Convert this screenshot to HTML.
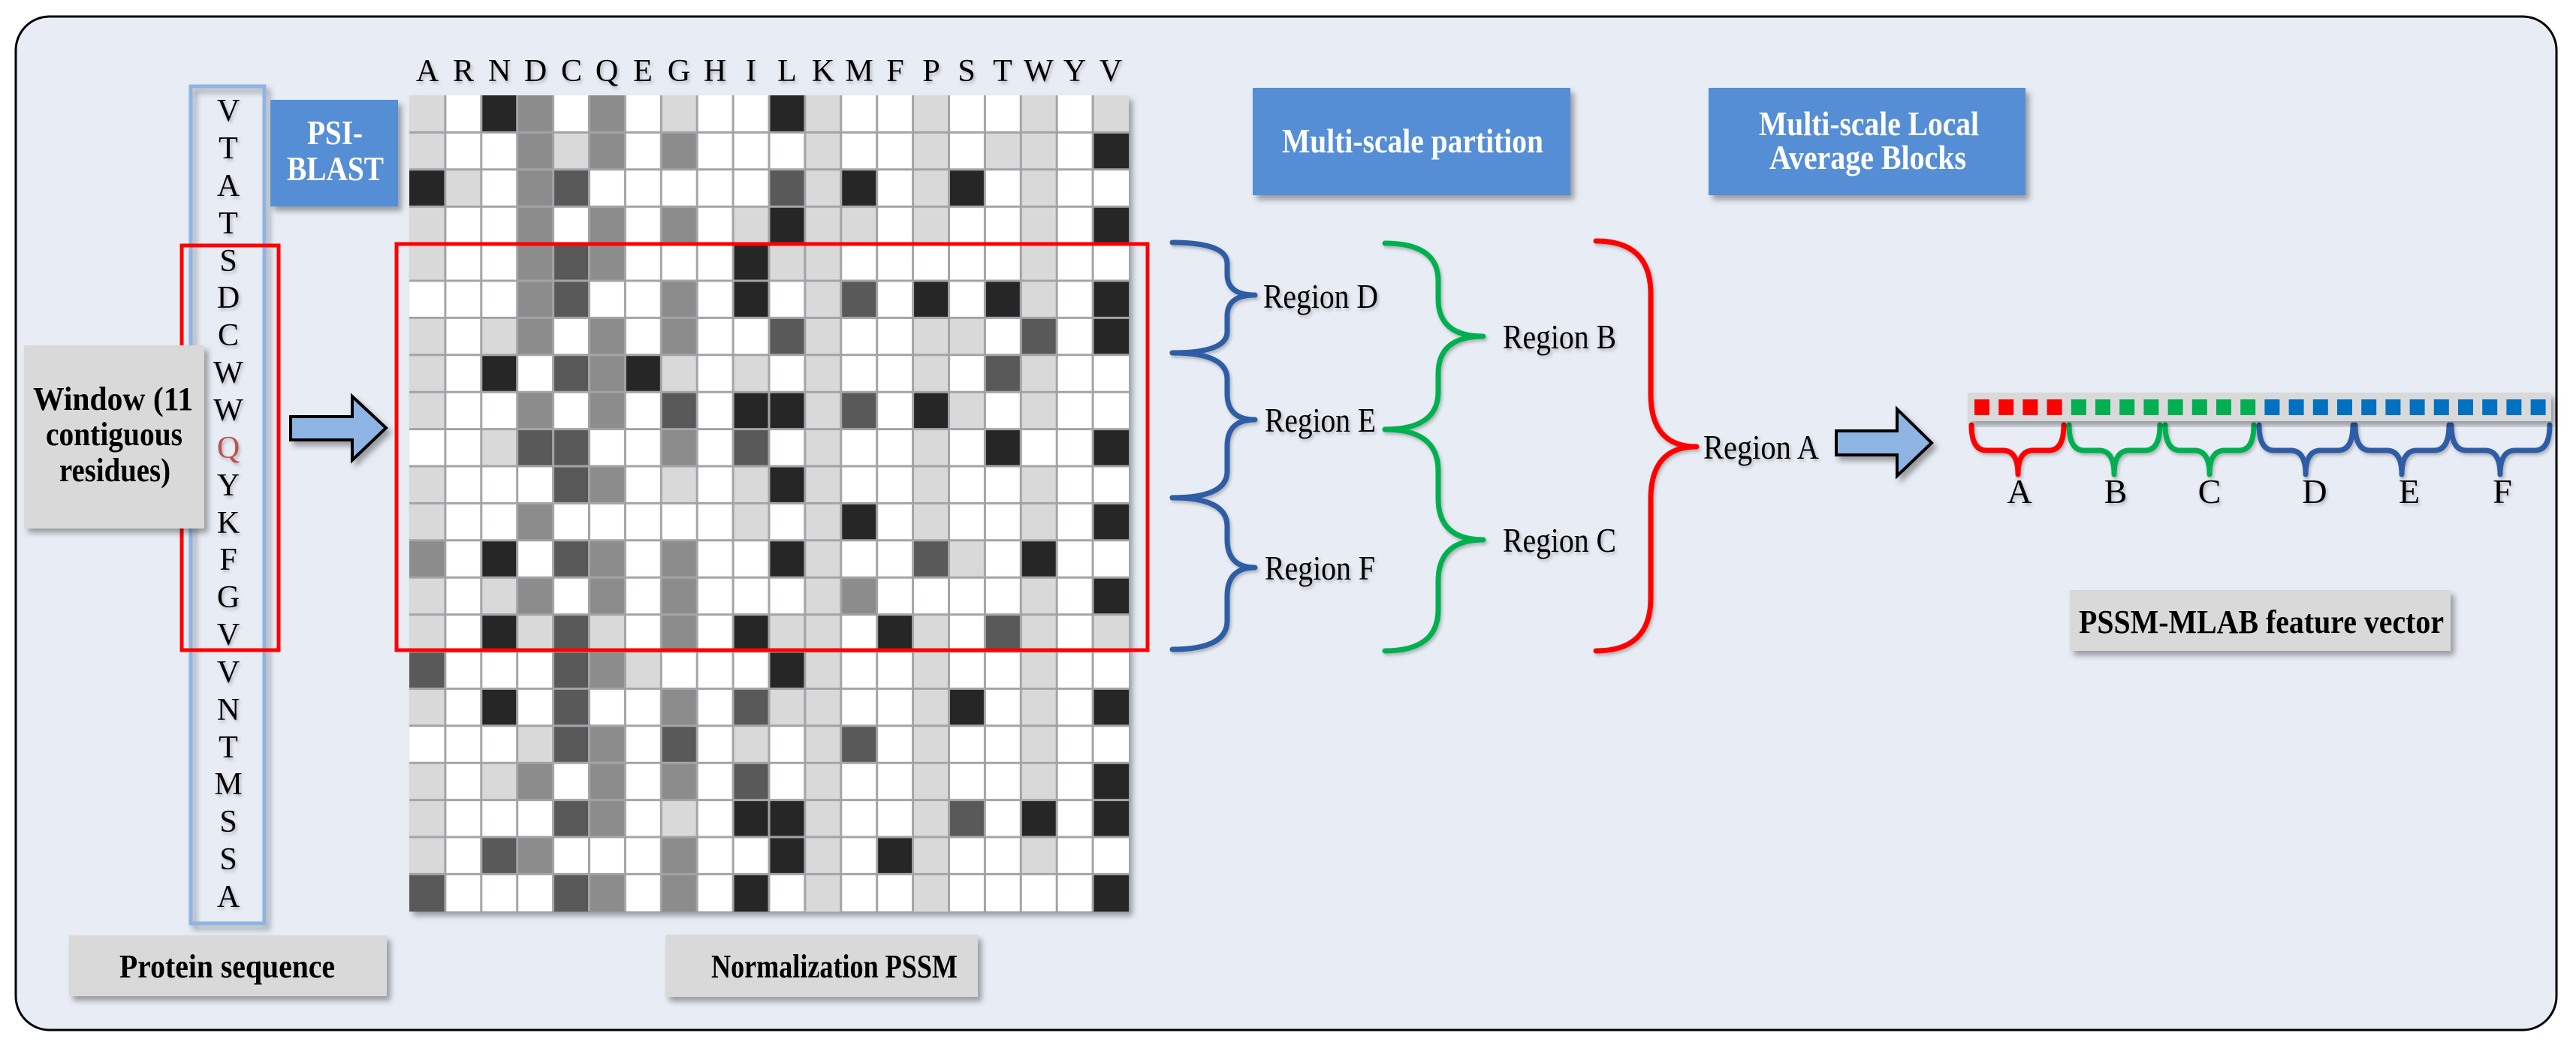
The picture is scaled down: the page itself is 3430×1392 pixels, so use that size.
<!DOCTYPE html>
<html><head><meta charset="utf-8"><style>
html,body{margin:0;padding:0;background:#fff;}
svg{display:block;}
.L{fill:#d9d9d9}.M{fill:#8c8c8c}.D{fill:#595959}.B{fill:#262626}
.c{width:48px;height:50px}
text{font-family:"Liberation Serif",serif;}
.bw{font-weight:bold;fill:#fff;font-size:46px;}
.bk{font-weight:bold;fill:#000;font-size:44px;}
.rg{font-size:46px;fill:#000;}
</style></head><body>
<svg width="3430" height="1392" viewBox="0 0 3430 1392" xmlns="http://www.w3.org/2000/svg">
<defs>
<filter id="sh" x="-10%" y="-10%" width="130%" height="130%"><feDropShadow dx="5" dy="6" stdDeviation="4" flood-color="#000" flood-opacity="0.35"/></filter>
<filter id="ts" x="-10%" y="-20%" width="130%" height="160%"><feDropShadow dx="2" dy="3" stdDeviation="2" flood-color="#000" flood-opacity="0.25"/></filter>
</defs>
<rect x="21" y="22" width="3383" height="1350" rx="45" fill="#e8edf5" stroke="#000" stroke-width="3"/>

<rect x="254" y="115" width="98" height="1115" fill="none" stroke="#8eb4e3" stroke-width="5" filter="url(#sh)"/>
<g font-size="42" text-anchor="middle" filter="url(#ts)">
<text x="304" y="161">V</text><text x="304" y="211">T</text><text x="304" y="261">A</text><text x="304" y="311">T</text>
<text x="304" y="361">S</text><text x="304" y="410">D</text><text x="304" y="460">C</text><text x="304" y="510">W</text>
<text x="304" y="560">W</text><text x="304" y="610" fill="#c0504d">Q</text><text x="304" y="660">Y</text><text x="304" y="710">K</text>
<text x="304" y="759">F</text><text x="304" y="809">G</text><text x="304" y="859">V</text><text x="304" y="909">V</text>
<text x="304" y="959">N</text><text x="304" y="1009">T</text><text x="304" y="1058">M</text><text x="304" y="1108">S</text>
<text x="304" y="1158">S</text><text x="304" y="1208">A</text>
</g>
<rect x="242" y="327" width="129" height="539" fill="none" stroke="#ff0000" stroke-width="5"/>

<rect x="32" y="460" width="240" height="244" fill="#d9d9d9" filter="url(#sh)"/>
<text class="bk" x="44" y="546" textLength="213" lengthAdjust="spacingAndGlyphs">Window  (11</text>
<text class="bk" x="61" y="593" textLength="182" lengthAdjust="spacingAndGlyphs">contiguous</text>
<text class="bk" x="79" y="641" textLength="148" lengthAdjust="spacingAndGlyphs">residues)</text>

<rect x="360" y="133" width="170" height="142" fill="#558ed5" filter="url(#sh)"/>
<text class="bw" x="409" y="192" textLength="74" lengthAdjust="spacingAndGlyphs">PSI-</text>
<text class="bw" x="382" y="240" textLength="129" lengthAdjust="spacingAndGlyphs">BLAST</text>

<polygon points="387,555 469,555 469,528 514,570 469,613 469,586 387,586" fill="#8eb4e3" stroke="#000" stroke-width="4" stroke-linejoin="miter" filter="url(#sh)"/>

<rect x="92" y="1246" width="423" height="81" fill="#d9d9d9" filter="url(#sh)"/>
<text class="bk" x="159" y="1302" textLength="287" lengthAdjust="spacingAndGlyphs">Protein sequence</text>

<g font-size="42" text-anchor="middle" filter="url(#ts)">
<text x="569" y="108">A</text><text x="617" y="108">R</text><text x="665" y="108">N</text><text x="713" y="108">D</text>
<text x="761" y="108">C</text><text x="808" y="108">Q</text><text x="856" y="108">E</text><text x="904" y="108">G</text>
<text x="952" y="108">H</text><text x="1000" y="108">I</text><text x="1048" y="108">L</text><text x="1096" y="108">K</text>
<text x="1144" y="108">M</text><text x="1192" y="108">F</text><text x="1240" y="108">P</text><text x="1287" y="108">S</text>
<text x="1335" y="108">T</text><text x="1383" y="108">W</text><text x="1431" y="108">Y</text><text x="1479" y="108">V</text>
</g>

<rect x="545" y="127" width="958" height="1087" fill="#fff" filter="url(#sh)"/>
<g>
<g transform="translate(0,127)"><rect class="c L" x="545"/><rect class="c B" x="640.8"/><rect class="c M" x="688.7"/><rect class="c M" x="784.5"/><rect class="c L" x="880.3"/><rect class="c B" x="1024"/><rect class="c L" x="1071.9"/><rect class="c L" x="1215.6"/><rect class="c L" x="1359.3"/><rect class="c L" x="1455.1"/></g>
<g transform="translate(0,176.4)"><rect class="c L" x="545"/><rect class="c M" x="688.7"/><rect class="c L" x="736.6"/><rect class="c M" x="784.5"/><rect class="c M" x="880.3"/><rect class="c L" x="1071.9"/><rect class="c L" x="1215.6"/><rect class="c L" x="1311.4"/><rect class="c L" x="1359.3"/><rect class="c B" x="1455.1"/></g>
<g transform="translate(0,225.8)"><rect class="c B" x="545"/><rect class="c L" x="592.9"/><rect class="c M" x="688.7"/><rect class="c D" x="736.6"/><rect class="c D" x="1024"/><rect class="c L" x="1071.9"/><rect class="c B" x="1119.8"/><rect class="c L" x="1215.6"/><rect class="c B" x="1263.5"/><rect class="c L" x="1359.3"/></g>
<g transform="translate(0,275.2)"><rect class="c L" x="545"/><rect class="c M" x="688.7"/><rect class="c M" x="784.5"/><rect class="c M" x="880.3"/><rect class="c L" x="976.1"/><rect class="c B" x="1024"/><rect class="c L" x="1071.9"/><rect class="c L" x="1119.8"/><rect class="c L" x="1215.6"/><rect class="c L" x="1359.3"/><rect class="c B" x="1455.1"/></g>
<g transform="translate(0,324.6)"><rect class="c L" x="545"/><rect class="c M" x="688.7"/><rect class="c D" x="736.6"/><rect class="c M" x="784.5"/><rect class="c B" x="976.1"/><rect class="c L" x="1024"/><rect class="c L" x="1071.9"/><rect class="c L" x="1359.3"/></g>
<g transform="translate(0,374)"><rect class="c M" x="688.7"/><rect class="c D" x="736.6"/><rect class="c M" x="880.3"/><rect class="c B" x="976.1"/><rect class="c L" x="1071.9"/><rect class="c D" x="1119.8"/><rect class="c B" x="1215.6"/><rect class="c B" x="1311.4"/><rect class="c L" x="1359.3"/><rect class="c B" x="1455.1"/></g>
<g transform="translate(0,423.4)"><rect class="c L" x="545"/><rect class="c L" x="640.8"/><rect class="c M" x="688.7"/><rect class="c M" x="784.5"/><rect class="c M" x="880.3"/><rect class="c D" x="1024"/><rect class="c L" x="1071.9"/><rect class="c L" x="1215.6"/><rect class="c L" x="1263.5"/><rect class="c D" x="1359.3"/><rect class="c B" x="1455.1"/></g>
<g transform="translate(0,472.8)"><rect class="c L" x="545"/><rect class="c B" x="640.8"/><rect class="c D" x="736.6"/><rect class="c M" x="784.5"/><rect class="c B" x="832.4"/><rect class="c L" x="880.3"/><rect class="c L" x="976.1"/><rect class="c L" x="1071.9"/><rect class="c L" x="1215.6"/><rect class="c D" x="1311.4"/><rect class="c L" x="1359.3"/></g>
<g transform="translate(0,522.2)"><rect class="c L" x="545"/><rect class="c M" x="688.7"/><rect class="c M" x="784.5"/><rect class="c D" x="880.3"/><rect class="c B" x="976.1"/><rect class="c B" x="1024"/><rect class="c L" x="1071.9"/><rect class="c D" x="1119.8"/><rect class="c B" x="1215.6"/><rect class="c L" x="1263.5"/><rect class="c L" x="1359.3"/></g>
<g transform="translate(0,571.6)"><rect class="c L" x="640.8"/><rect class="c D" x="688.7"/><rect class="c D" x="736.6"/><rect class="c M" x="880.3"/><rect class="c D" x="976.1"/><rect class="c L" x="1071.9"/><rect class="c L" x="1215.6"/><rect class="c B" x="1311.4"/><rect class="c B" x="1455.1"/></g>
<g transform="translate(0,621)"><rect class="c L" x="545"/><rect class="c D" x="736.6"/><rect class="c M" x="784.5"/><rect class="c L" x="880.3"/><rect class="c L" x="976.1"/><rect class="c B" x="1024"/><rect class="c L" x="1071.9"/><rect class="c L" x="1215.6"/><rect class="c L" x="1359.3"/></g>
<g transform="translate(0,670.4)"><rect class="c L" x="545"/><rect class="c M" x="688.7"/><rect class="c L" x="976.1"/><rect class="c L" x="1071.9"/><rect class="c B" x="1119.8"/><rect class="c L" x="1215.6"/><rect class="c L" x="1359.3"/><rect class="c B" x="1455.1"/></g>
<g transform="translate(0,719.8)"><rect class="c M" x="545"/><rect class="c B" x="640.8"/><rect class="c D" x="736.6"/><rect class="c M" x="784.5"/><rect class="c M" x="880.3"/><rect class="c B" x="1024"/><rect class="c L" x="1071.9"/><rect class="c D" x="1215.6"/><rect class="c L" x="1263.5"/><rect class="c B" x="1359.3"/></g>
<g transform="translate(0,769.2)"><rect class="c L" x="545"/><rect class="c L" x="640.8"/><rect class="c M" x="688.7"/><rect class="c M" x="784.5"/><rect class="c M" x="880.3"/><rect class="c L" x="1071.9"/><rect class="c M" x="1119.8"/><rect class="c L" x="1359.3"/><rect class="c B" x="1455.1"/></g>
<g transform="translate(0,818.6)"><rect class="c L" x="545"/><rect class="c B" x="640.8"/><rect class="c L" x="688.7"/><rect class="c D" x="736.6"/><rect class="c L" x="784.5"/><rect class="c M" x="880.3"/><rect class="c B" x="976.1"/><rect class="c L" x="1024"/><rect class="c L" x="1071.9"/><rect class="c B" x="1167.7"/><rect class="c L" x="1215.6"/><rect class="c D" x="1311.4"/><rect class="c L" x="1359.3"/><rect class="c L" x="1455.1"/></g>
<g transform="translate(0,868)"><rect class="c D" x="545"/><rect class="c D" x="736.6"/><rect class="c M" x="784.5"/><rect class="c L" x="832.4"/><rect class="c B" x="1024"/><rect class="c L" x="1071.9"/><rect class="c L" x="1215.6"/><rect class="c L" x="1359.3"/></g>
<g transform="translate(0,917.4)"><rect class="c L" x="545"/><rect class="c B" x="640.8"/><rect class="c D" x="736.6"/><rect class="c M" x="880.3"/><rect class="c D" x="976.1"/><rect class="c L" x="1024"/><rect class="c L" x="1071.9"/><rect class="c L" x="1215.6"/><rect class="c B" x="1263.5"/><rect class="c L" x="1359.3"/><rect class="c B" x="1455.1"/></g>
<g transform="translate(0,966.8)"><rect class="c L" x="688.7"/><rect class="c D" x="736.6"/><rect class="c M" x="784.5"/><rect class="c D" x="880.3"/><rect class="c L" x="976.1"/><rect class="c L" x="1071.9"/><rect class="c D" x="1119.8"/><rect class="c L" x="1215.6"/><rect class="c L" x="1359.3"/></g>
<g transform="translate(0,1016.2)"><rect class="c L" x="545"/><rect class="c L" x="640.8"/><rect class="c M" x="688.7"/><rect class="c M" x="784.5"/><rect class="c M" x="880.3"/><rect class="c D" x="976.1"/><rect class="c L" x="1071.9"/><rect class="c L" x="1215.6"/><rect class="c L" x="1359.3"/><rect class="c B" x="1455.1"/></g>
<g transform="translate(0,1065.6)"><rect class="c L" x="545"/><rect class="c D" x="736.6"/><rect class="c M" x="784.5"/><rect class="c L" x="880.3"/><rect class="c B" x="976.1"/><rect class="c B" x="1024"/><rect class="c L" x="1071.9"/><rect class="c L" x="1215.6"/><rect class="c D" x="1263.5"/><rect class="c B" x="1359.3"/><rect class="c B" x="1455.1"/></g>
<g transform="translate(0,1115)"><rect class="c L" x="545"/><rect class="c D" x="640.8"/><rect class="c M" x="688.7"/><rect class="c M" x="880.3"/><rect class="c B" x="1024"/><rect class="c L" x="1071.9"/><rect class="c B" x="1167.7"/><rect class="c L" x="1215.6"/><rect class="c L" x="1359.3"/></g>
<g transform="translate(0,1164.4)"><rect class="c D" x="545"/><rect class="c D" x="736.6"/><rect class="c M" x="784.5"/><rect class="c M" x="880.3"/><rect class="c B" x="976.1"/><rect class="c L" x="1071.9"/><rect class="c L" x="1215.6"/><rect class="c B" x="1455.1"/></g>
</g>
<g stroke="#a2a4a8" stroke-width="3">
<path d="M592.9,127V1214M640.8,127V1214M688.7,127V1214M736.6,127V1214M784.5,127V1214M832.4,127V1214M880.3,127V1214M928.2,127V1214M976.1,127V1214M1024,127V1214M1071.9,127V1214M1119.8,127V1214M1167.7,127V1214M1215.6,127V1214M1263.5,127V1214M1311.4,127V1214M1359.3,127V1214M1407.2,127V1214M1455.1,127V1214"/>
<path d="M545,176.4H1503M545,225.8H1503M545,275.2H1503M545,324.6H1503M545,374H1503M545,423.4H1503M545,472.8H1503M545,522.2H1503M545,571.6H1503M545,621H1503M545,670.4H1503M545,719.8H1503M545,769.2H1503M545,818.6H1503M545,868H1503M545,917.4H1503M545,966.8H1503M545,1016.2H1503M545,1065.6H1503M545,1115H1503M545,1164.4H1503"/>
</g>
<rect x="528" y="325" width="1000" height="541" fill="none" stroke="#ff0000" stroke-width="5"/>

<rect x="886" y="1245" width="416" height="83" fill="#d9d9d9" filter="url(#sh)"/>
<text class="bk" x="947" y="1302" textLength="328" lengthAdjust="spacingAndGlyphs">Normalization PSSM</text>

<rect x="1668" y="117" width="423" height="143" fill="#558ed5" filter="url(#sh)"/>
<text class="bw" x="1707" y="203" textLength="348" lengthAdjust="spacingAndGlyphs">Multi-scale partition</text>
<rect x="2275" y="117" width="422" height="143" fill="#558ed5" filter="url(#sh)"/>
<text class="bw" x="2342" y="180" textLength="293" lengthAdjust="spacingAndGlyphs">Multi-scale Local</text>
<text class="bw" x="2356" y="225" textLength="262" lengthAdjust="spacingAndGlyphs">Average Blocks</text>

<g fill="none" stroke-width="7" stroke-linecap="round" stroke-linejoin="round" filter="url(#ts)">
<g stroke="#2f5da5">
<path d="M1561,323 Q1634,323 1634,351 L1634,365 Q1634,393 1671,393 Q1634,393 1634,421 L1634,442 Q1634,470 1561,470"/>
<path d="M1561,470 Q1634,470 1634,505 L1634,524 Q1634,559 1671,559 Q1634,559 1634,594 L1634,628 Q1634,663 1561,663"/>
<path d="M1561,663 Q1634,663 1634,701 L1634,718 Q1634,756 1671,756 Q1634,756 1634,794 L1634,827 Q1634,865 1561,865"/>
</g>
<g stroke="#00b050">
<path d="M1844,324 Q1915,324 1915,374 L1915,398 Q1915,448 1975,448 Q1915,448 1915,498 L1915,522 Q1915,572 1844,572"/>
<path d="M1844,572 Q1915,572 1915,627 L1915,664 Q1915,719 1975,719 Q1915,719 1915,774 L1915,812 Q1915,867 1844,867"/>
</g>
<path stroke="#ff0000" d="M2125,321 Q2198,321 2198,391 L2198,525 Q2198,595 2259,595 Q2198,595 2198,665 L2198,797 Q2198,867 2125,867"/>
<path stroke="#ff0000" d="M2625,566 Q2625,600 2645,600 L2667,600 Q2687,600 2687,632 Q2687,600 2707,600 L2728,600 Q2748,600 2748,566"/>
<path stroke="#00b050" d="M2755,566 Q2755,600 2775,600 L2795,600 Q2815,600 2815,632 Q2815,600 2835,600 L2856,600 Q2876,600 2876,566"/>
<path stroke="#00b050" d="M2883,566 Q2883,600 2903,600 L2922,600 Q2942,600 2942,632 Q2942,600 2962,600 L2981,600 Q3001,600 3001,566"/>
<path stroke="#2f5da5" d="M3008,566 Q3008,600 3028,600 L3050,600 Q3070,600 3070,632 Q3070,600 3090,600 L3113,600 Q3133,600 3133,566"/>
<path stroke="#2f5da5" d="M3136,566 Q3136,600 3156,600 L3178,600 Q3198,600 3198,632 Q3198,600 3218,600 L3241,600 Q3261,600 3261,566"/>
<path stroke="#2f5da5" d="M3264,566 Q3264,600 3284,600 L3309,600 Q3329,600 3329,632 Q3329,600 3349,600 L3375,600 Q3395,600 3395,566"/>
</g>

<g filter="url(#ts)">
<text class="rg" x="1682" y="410" textLength="153" lengthAdjust="spacingAndGlyphs">Region D</text>
<text class="rg" x="1684" y="575" textLength="148" lengthAdjust="spacingAndGlyphs">Region E</text>
<text class="rg" x="1684" y="772" textLength="147" lengthAdjust="spacingAndGlyphs">Region F</text>
<text class="rg" x="2001" y="464" textLength="151" lengthAdjust="spacingAndGlyphs">Region B</text>
<text class="rg" x="2001" y="735" textLength="151" lengthAdjust="spacingAndGlyphs">Region C</text>
<text class="rg" x="2268" y="611" textLength="154" lengthAdjust="spacingAndGlyphs">Region A</text>
</g>

<polygon points="2445,574 2526,574 2526,545 2572,590 2526,634 2526,606 2445,606" fill="#8eb4e3" stroke="#000" stroke-width="4" filter="url(#sh)"/>

<rect x="2620" y="523" width="777" height="38" fill="#d9d9d9" filter="url(#sh)"/>
<g fill="#ff0000"><rect x="2629" y="532" width="20" height="21"/><rect x="2661.2" y="532" width="20" height="21"/><rect x="2693.4" y="532" width="20" height="21"/><rect x="2725.6" y="532" width="20" height="21"/></g>
<g fill="#00b050"><rect x="2757.8" y="532" width="20" height="21"/><rect x="2790" y="532" width="20" height="21"/><rect x="2822.2" y="532" width="20" height="21"/><rect x="2854.4" y="532" width="20" height="21"/><rect x="2886.6" y="532" width="20" height="21"/><rect x="2918.8" y="532" width="20" height="21"/><rect x="2951" y="532" width="20" height="21"/><rect x="2983.2" y="532" width="20" height="21"/></g>
<g fill="#0070c0"><rect x="3015.4" y="532" width="20" height="21"/><rect x="3047.6" y="532" width="20" height="21"/><rect x="3079.8" y="532" width="20" height="21"/><rect x="3112" y="532" width="20" height="21"/><rect x="3144.2" y="532" width="20" height="21"/><rect x="3176.4" y="532" width="20" height="21"/><rect x="3208.6" y="532" width="20" height="21"/><rect x="3240.8" y="532" width="20" height="21"/><rect x="3273" y="532" width="20" height="21"/><rect x="3305.2" y="532" width="20" height="21"/><rect x="3337.4" y="532" width="20" height="21"/><rect x="3369.6" y="532" width="20" height="21"/></g>
<g font-size="46" text-anchor="middle" filter="url(#ts)">
<text x="2689" y="670">A</text><text x="2817" y="670">B</text><text x="2942" y="670">C</text><text x="3082" y="670">D</text><text x="3208" y="670">E</text><text x="3332" y="670">F</text>
</g>

<rect x="2756" y="786" width="507" height="81" fill="#d9d9d9" filter="url(#sh)"/>
<text class="bk" x="2768" y="843" textLength="486" lengthAdjust="spacingAndGlyphs">PSSM-MLAB feature vector</text>
</svg>
</body></html>
